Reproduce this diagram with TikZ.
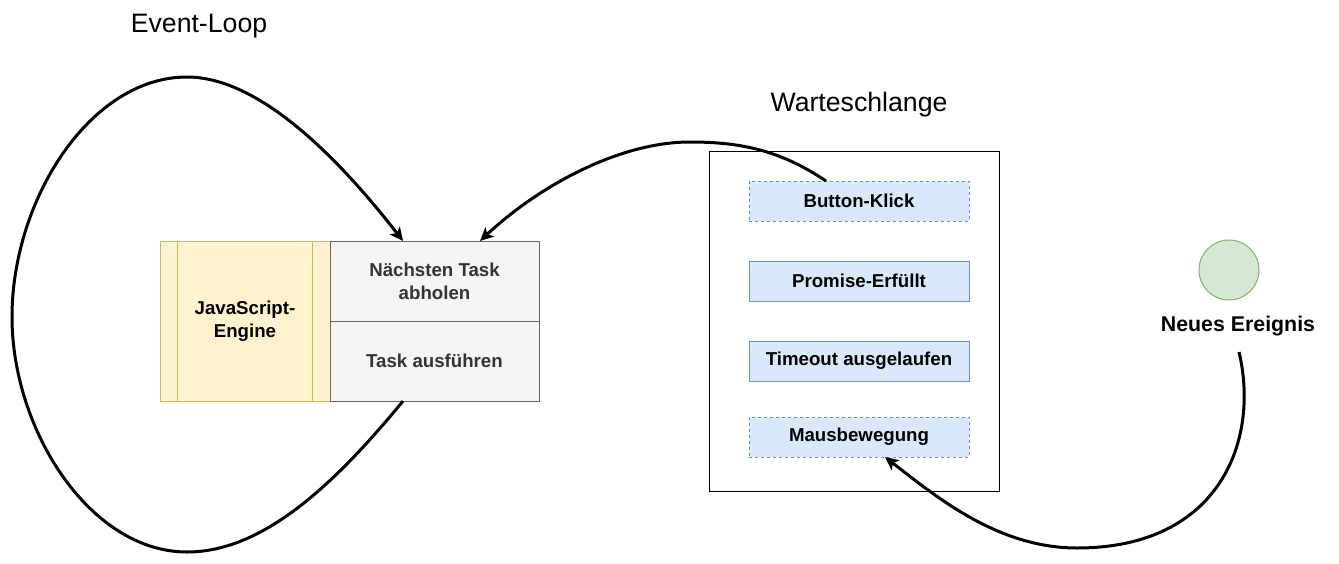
\documentclass[tikz,border=0pt]{standalone}
\usepackage{fontspec}
\setmainfont{Liberation Sans}
\usetikzlibrary{positioning,arrows.meta}

\definecolor{engfill}{HTML}{FFF2CC}
\definecolor{engline}{HTML}{D6B656}
\definecolor{taskfill}{HTML}{F5F5F5}
\definecolor{taskline}{HTML}{666666}
\definecolor{tasktext}{HTML}{333333}
\definecolor{itemfill}{HTML}{DAE8FC}
\definecolor{itemline}{HTML}{6C8EBF}
\definecolor{evfill}{HTML}{D5E8D4}
\definecolor{evline}{HTML}{82B366}

\begin{document}
\begin{tikzpicture}[x=0.75pt, y=-0.75pt, node distance=60pt,
  engine/.style={rectangle, draw=engline, fill=engfill, line width=0.75pt, outer sep=0pt, minimum width=127.5pt, minimum height=120pt, align=center, font=\fontsize{14}{17}\selectfont\bfseries},
  task/.style={rectangle, draw=taskline, fill=taskfill, text=tasktext, line width=0.75pt, outer sep=0pt, minimum width=156.75pt, minimum height=60pt, align=center, font=\fontsize{14}{17}\selectfont\bfseries},
  queue/.style={rectangle, draw, fill=white, line width=0.75pt, outer sep=0pt, minimum width=217.5pt, minimum height=255pt},
  item/.style={rectangle, draw=itemline, fill=itemfill, line width=0.75pt, outer sep=0pt, minimum width=165pt, minimum height=30pt, font=\fontsize{14}{17}\selectfont\bfseries},
  dashitem/.style={item, dash pattern=on 2.25pt off 2.25pt},
  event/.style={circle, draw=evline, fill=evfill, line width=0.75pt, minimum size=45pt, inner sep=0pt},
  title/.style={font=\fontsize{20}{24}\selectfont},
  flow/.style={line width=2.25pt, -{Stealth[length=10pt, width=9.5pt, inset=2.5pt]}}]

  \useasboundingbox (0,0) rectangle (1339,564);

  % engine and its two steps
  \node[engine] (engine) at (245,321) {JavaScript-\\Engine};
  \draw[engline, line width=0.75pt] ([xshift=12.75pt]engine.north west) -- ([xshift=12.75pt]engine.south west);
  \draw[engline, line width=0.75pt] ([xshift=-13.5pt]engine.north east) -- ([xshift=-13.5pt]engine.south east);
  \node[task, anchor=north west] (fetch) at (engine.north east) {Nächsten Task\\abholen};
  \node[task, below=0pt of fetch] (exec) {Task ausführen};

  \node[title] (looptitle) at (199,26) {Event-Loop};

  % queue
  \node[queue] (queue) at (854,321) {};
  \node[title] (queuetitle) at (859,105) {Warteschlange};
  \node[dashitem] (button) at (859,201) {Button-Klick};
  \node[item, below of=button] (promise) {Promise-Erfüllt};
  \node[item, below of=promise] (timeout) {Timeout ausgelaufen};
  \node[dashitem, below of=timeout, node distance=57pt] (maus) {Mausbewegung};

  % new event
  \node[event] (event) at (1229,270) {};
  \node[font=\fontsize{16}{19}\selectfont\bfseries] (eventlbl) at (1238,326) {Neues Ereignis};
  \coordinate (evsrc) at (1239,352);

  \draw[flow] ([xshift=-23.6pt]exec.south) .. controls (330,490) and (260,552) .. (187,552)
    .. controls (90,552) and (12,430) .. (12,317)
    .. controls (12,200) and (90,77) .. (187,77)
    .. controls (260,77) and (340,160) .. ([xshift=-23.6pt]fetch.north);
  \draw[flow] ([xshift=-24.75pt]button.north) .. controls (780,150) and (740,142) .. (690,142)
    .. controls (620,142) and (540,185) .. ([xshift=34.1pt]fetch.north);
  \draw[flow] (evsrc) .. controls (1260,440) and (1220,548) .. (1077,548)
    .. controls (1000,548) and (940,500) .. ([xshift=19.5pt]maus.south);
\end{tikzpicture}
\end{document}
